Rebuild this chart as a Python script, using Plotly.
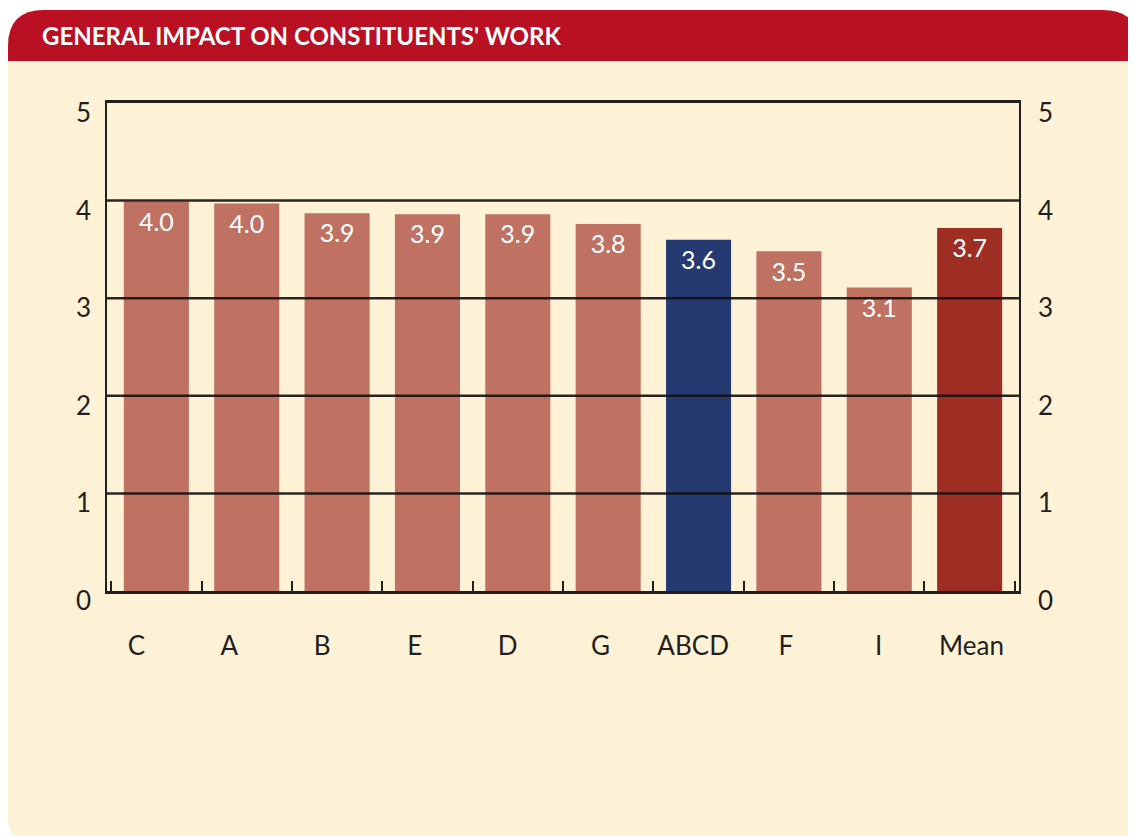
import plotly.graph_objects as go

# ---- data ----
categories = ["C", "A", "B", "E", "D", "G", "ABCD", "F", "I", "Mean"]
values = [3.99, 3.97, 3.87, 3.86, 3.86, 3.76, 3.60, 3.48, 3.11, 3.72]
bar_colors = ["#C07262"] * 6 + ["#243A70"] + ["#C07262"] * 2 + ["#9E2D24"]
y_ticks = [0, 1, 2, 3, 4, 5]
title_text = "GENERAL IMPACT ON CONSTITUENTS' WORK"

# ---- layout geometry (page pixels; the page has an 8px body margin) ----
OFF = 8
W, H = 1136 - OFF, 836 - OFF
L, R, T, B = 107, 1019, 103, 591          # plot area on the page
LAB_L, LAB_R = 86, 1022                   # span of the category-label axis on the page
MT, MB = T - OFF, H - (B - OFF)
PH = B - T

def px(x):  # page x -> paper fraction
    return (x - OFF) / W

def py(y):  # page y -> paper fraction
    return (B - y) / PH

FONT = "Lato, 'Open Sans', sans-serif"
DARK = "#231F20"
CREAM = "#FEF2D6"
RED = "#BA1024"

fig = go.Figure()
fig.add_trace(go.Bar(
    x=categories, y=values, marker=dict(color=bar_colors, line=dict(width=0)),
    hoverinfo="skip", showlegend=False,
))
# value labels inside the bars, just below their tops
label_offset = 0.235
fig.add_trace(go.Scatter(
    x=categories, y=[v - label_offset for v in values],
    text=[f"{v:.1f}" for v in values], mode="text",
    textfont=dict(color="white", size=25, family=FONT),
    hoverinfo="skip", showlegend=False,
))
# invisible trace carrying the category-label axis
fig.add_trace(go.Scatter(x=categories, y=values, xaxis="x2", yaxis="y", mode="markers",
                         marker=dict(opacity=0), hoverinfo="skip", showlegend=False))
# invisible trace for the right-hand axis
fig.add_trace(go.Scatter(x=categories, y=values, yaxis="y2", mode="markers",
                         marker=dict(opacity=0), hoverinfo="skip", showlegend=False))

shapes = []
r1, r2, r3 = 36, 38, 22
x0, x1, y0, y1 = 8, 1140, 10, 840
panel = (f"M {px(x0)},{py(y0 + r1)} Q {px(x0)},{py(y0)} {px(x0 + r1)},{py(y0)} "
         f"L {px(x1 - r2)},{py(y0)} Q {px(x1)},{py(y0)} {px(x1)},{py(y0 + r2)} "
         f"L {px(x1)},{py(y1)} L {px(x0 + r3)},{py(y1)} Q {px(x0)},{py(y1)} {px(x0)},{py(y1 - r3)} Z")
shapes.append(dict(type="path", xref="paper", yref="paper", path=panel,
                   fillcolor=CREAM, line=dict(width=0), layer="below"))
hb = 61
header = (f"M {px(x0)},{py(y0 + r1)} Q {px(x0)},{py(y0)} {px(x0 + r1)},{py(y0)} "
          f"L {px(x1 - r2)},{py(y0)} Q {px(x1)},{py(y0)} {px(x1)},{py(y0 + r2)} "
          f"L {px(x1)},{py(hb)} L {px(x0)},{py(hb)} Z")
shapes.append(dict(type="path", xref="paper", yref="paper", path=header,
                   fillcolor=RED, line=dict(width=0), layer="below"))
# gridlines drawn over the bars
for t in y_ticks[1:-1]:
    shapes.append(dict(type="line", xref="paper", yref="y", x0=px(L), x1=px(R), y0=t, y1=t,
                       line=dict(color="rgba(20,15,15,0.9)", width=2.5), layer="above"))

annotations = [dict(
    text=f"<b>{title_text}</b>", xref="paper", yref="paper",
    x=px(40), y=py(36), xanchor="left", yanchor="middle", showarrow=False,
    font=dict(family=FONT, size=24, color="white"),
)]
# y tick labels on both sides (sit a little below their lines, as in the original)
for t in y_ticks:
    annotations.append(dict(text=str(t), xref="paper", yref="y", x=px(L - 14), y=t,
                            xanchor="right", yanchor="middle", yshift=-9, showarrow=False,
                            font=dict(family=FONT, size=26, color=DARK)))
    annotations.append(dict(text=str(t), xref="paper", yref="y", x=px(R + 17), y=t,
                            xanchor="left", yanchor="middle", yshift=-9, showarrow=False,
                            font=dict(family=FONT, size=26, color=DARK)))

fig.update_layout(
    width=W, height=H,
    margin=dict(l=0, r=0, t=MT, b=MB, pad=0),
    paper_bgcolor="white", plot_bgcolor="rgba(0,0,0,0)",
    bargap=0.28,
    font=dict(family=FONT, color=DARK, size=26),
    shapes=shapes,
    annotations=annotations,
    xaxis=dict(
        type="category", domain=[px(L), px(R)], anchor="y",
        showgrid=False, showline=True, linecolor=DARK, linewidth=3,
        mirror=True, ticks="inside", tickson="boundaries", ticklen=10, tickwidth=2,
        tickcolor=DARK, showticklabels=False, zeroline=False,
    ),
    xaxis2=dict(
        type="category", domain=[px(LAB_L), px(LAB_R)], anchor="y",
        showgrid=False, showline=False, ticks="", zeroline=False,
        tickfont=dict(size=26, color=DARK), ticklabelstandoff=37,
    ),
    yaxis=dict(
        range=[0, 5], tickvals=y_ticks, showgrid=False, zeroline=False, anchor="x",
        showline=True, linecolor=DARK, linewidth=2, ticks="", showticklabels=False,
    ),
    yaxis2=dict(
        range=[0, 5], tickvals=y_ticks, overlaying="y", side="right", anchor="x",
        showgrid=False, zeroline=False, showline=True, linecolor=DARK, linewidth=2,
        ticks="", showticklabels=False,
    ),
)

fig.write_html("out.html")
